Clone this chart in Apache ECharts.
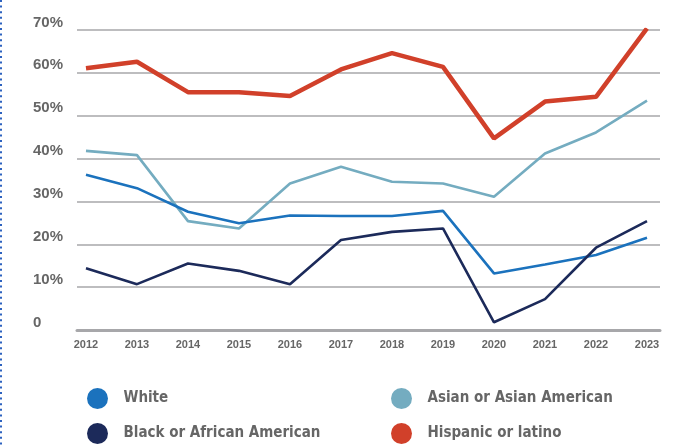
<!DOCTYPE html>
<html>
<head>
<meta charset="utf-8">
<script src="https://cdn.jsdelivr.net/npm/echarts@6/dist/echarts.min.js"></script>
<style>
  html, body { margin: 0; padding: 0; background: #fff; }
  #chart { width: 686px; height: 446px; }
</style>
</head>
<body>
<div id="chart"></div>
<script>
// data
var years = [2012, 2013, 2014, 2015, 2016, 2017, 2018, 2019, 2020, 2021, 2022, 2023];
var white    = [36.2, 33.1, 27.6, 24.9, 26.7, 26.6, 26.6, 27.8, 13.2, 15.3, 17.5, 21.5];
var asian    = [41.8, 40.8, 25.4, 23.7, 34.2, 38.1, 34.6, 34.2, 31.1, 41.2, 46.1, 53.5];
var black    = [14.4, 10.7, 15.5, 13.8, 10.7, 21.0, 22.9, 23.7, 1.8, 7.2, 19.2, 25.4];
var hispanic = [61.1, 62.6, 55.5, 55.5, 54.6, 60.8, 64.6, 61.4, 44.7, 53.3, 54.4, 70.4];
var yTicks = [0, 10, 20, 30, 40, 50, 60, 70];

var colors = {
    white: '#1b72bd',
    asian: '#74acc0',
    black: '#1c2a5a',
    hispanic: '#d1402a'
};

var legendFont = {
    fontFamily: '"Liberation Sans Narrow", "DejaVu Sans Condensed", "Liberation Sans", sans-serif',
    fontWeight: 'bold',
    fontSize: 15,
    lineHeight: 21,
    color: '#666'
};

function pairs(vals) {
    return years.map(function (y, i) { return [y, vals[i]]; });
}

var myChart = echarts.init(document.getElementById('chart'));

var option = {
    animation: false,
    textStyle: { fontFamily: 'Liberation Sans' },
    graphic: [
        {
            type: 'line',
            shape: { x1: 1, y1: 0, x2: 1, y2: 446 },
            style: { stroke: '#2d62bf', lineWidth: 2, lineDash: [2, 3.6] }
        }
    ],
    grid: { left: 77, right: 26, top: 30, bottom: 116 },
    legend: [
        {
            orient: 'vertical',
            left: 87,
            top: 388,
            itemWidth: 42,
            itemHeight: 21,
            itemGap: 14,
            padding: 0,
            icon: 'circle',
            data: ['White', 'Black or African American'],
            textStyle: legendFont
        },
        {
            orient: 'vertical',
            left: 391,
            top: 388,
            itemWidth: 42,
            itemHeight: 21,
            itemGap: 14,
            padding: 0,
            icon: 'circle',
            data: ['Asian or Asian American', 'Hispanic or latino'],
            textStyle: legendFont
        }
    ],
    xAxis: {
        type: 'value',
        min: 2011.824,
        max: 2023.255,
        splitLine: { show: false },
        axisTick: { show: false },
        axisLine: { show: true, lineStyle: { color: '#a7a7aa', width: 3 } },
        axisLabel: {
            customValues: years,
            margin: 9,
            color: '#666',
            fontWeight: 'bold',
            fontSize: 11,
            formatter: function (v) { return String(v); }
        }
    },
    yAxis: {
        type: 'value',
        min: 0,
        max: 70,
        interval: 10,
        axisLine: { show: false },
        axisTick: { show: false },
        splitLine: { lineStyle: { color: '#a7a7aa', width: 1.5 } },
        axisLabel: {
            customValues: yTicks,
            align: 'left',
            verticalAlign: 'bottom',
            lineHeight: 15,
            margin: 44,
            color: '#666',
            fontWeight: 'bold',
            fontSize: 15,
            formatter: function (v) { return v === 0 ? '0' : v + '%'; }
        }
    },
    series: [
        {
            name: 'White', type: 'line', symbol: 'none', data: pairs(white),
            itemStyle: { color: colors.white },
            lineStyle: { color: colors.white, width: 2.6 }, z: 3
        },
        {
            name: 'Asian or Asian American', type: 'line', symbol: 'none', data: pairs(asian),
            itemStyle: { color: colors.asian },
            lineStyle: { color: colors.asian, width: 2.6 }, z: 2
        },
        {
            name: 'Black or African American', type: 'line', symbol: 'none', data: pairs(black),
            itemStyle: { color: colors.black },
            lineStyle: { color: colors.black, width: 2.6 }, z: 4
        },
        {
            name: 'Hispanic or latino', type: 'line', symbol: 'none', data: pairs(hispanic),
            itemStyle: { color: colors.hispanic },
            lineStyle: { color: colors.hispanic, width: 4.5 }, z: 5
        }
    ]
};

myChart.setOption(option);
</script>
</body>
</html>
